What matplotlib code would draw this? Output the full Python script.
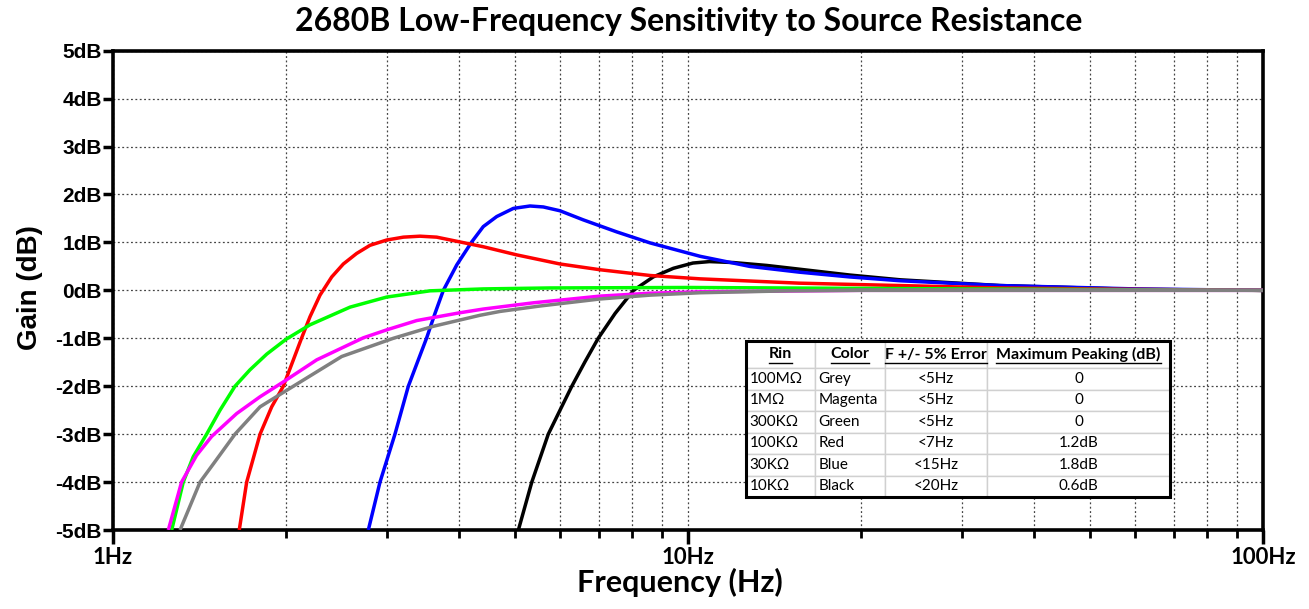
import matplotlib
matplotlib.use('Agg')
from matplotlib import pyplot as plt
from matplotlib.ticker import FixedLocator, NullFormatter
from matplotlib.lines import Line2D
from matplotlib.patches import Rectangle

# Curves (frequency in Hz, gain in dB)
black_f = [5.07, 5.35, 5.715, 5.99, 6.28, 6.62, 6.98, 7.47, 8.04, 8.70, 9.43, 10.2, 10.9, 12.0, 13.7,
           15.66, 19.1, 23.4, 34.9, 60, 100]
black_db = [-5, -4, -3, -2.5, -2, -1.49, -1, -0.48, 0, 0.28, 0.46, 0.57, 0.6, 0.58, 0.52,
            0.44, 0.32, 0.22, 0.1, 0.02, 0.0]

blue_f = [2.78, 2.913, 3.093, 3.263, 3.396, 3.512, 3.631, 3.754, 3.961, 4.206, 4.405, 4.649, 4.969,
          5.312, 5.603, 5.99, 6.576, 7.516, 8.59, 10.5, 12.8, 15.6, 19.1, 23.4, 34.9, 60, 100]
blue_db = [-5, -4, -3, -2, -1.45, -0.99, -0.48, 0, 0.53, 1.01, 1.33, 1.54, 1.71,
           1.76, 1.74, 1.66, 1.47, 1.22, 0.99, 0.71, 0.5, 0.38, 0.28, 0.2, 0.1, 0.03, 0.0]

red_f = [1.658, 1.708, 1.802, 1.888, 1.978, 2.059, 2.129, 2.201, 2.291, 2.401, 2.515, 2.653, 2.799,
         2.992, 3.199, 3.419, 3.655, 4.013, 4.405, 5.036, 5.99, 7.03, 8.59, 10.5, 15.6, 23.4, 35, 60, 100]
red_db = [-5, -4, -3, -2.43, -2, -1.45, -0.99, -0.55, -0.1, 0.28, 0.55, 0.77, 0.94,
          1.05, 1.11, 1.13, 1.11, 1.01, 0.91, 0.74, 0.55, 0.43, 0.31, 0.24, 0.15, 0.1, 0.05, 0.02, 0.0]

green_f = [1.265, 1.325, 1.379, 1.455, 1.535, 1.63, 1.73, 1.851, 2.0, 2.2, 2.584, 2.992, 3.558,
           4.405, 5.75, 10, 30, 100]
green_db = [-5, -4, -3.47, -3, -2.5, -2, -1.66, -1.33, -1.02, -0.72, -0.35, -0.14, -0.01,
            0.03, 0.05, 0.06, 0.03, 0.0]

magenta_f = [1.248, 1.316, 1.398, 1.484, 1.641, 1.802, 1.978, 2.261, 2.725, 3.0, 3.375, 4.0, 4.405,
             5.383, 7.03, 8.59, 10.5, 20, 100]
magenta_db = [-5, -4, -3.44, -3.05, -2.57, -2.22, -1.91, -1.45, -0.99, -0.82, -0.63, -0.47, -0.39,
              -0.26, -0.12, -0.06, -0.03, 0.0, 0.0]

grey_f = [1.308, 1.417, 1.499, 1.63, 1.802, 2.059, 2.499, 3.073, 3.606, 4.348, 4.71, 5.5, 7.03, 8.59,
          10.5, 15, 20, 100]
grey_db = [-5, -4, -3.6, -3, -2.43, -2, -1.38, -1, -0.75, -0.52, -0.44, -0.33, -0.18, -0.1,
           -0.05, -0.01, 0.0, 0.0]

curves = [
    (black_f, black_db, 'black'),
    (blue_f, blue_db, '#0000ff'),
    (red_f, red_db, '#ff0000'),
    (green_f, green_db, '#00ff00'),
    (magenta_f, magenta_db, '#ff00ff'),
    (grey_f, grey_db, '#808080'),
]

y_ticks = [5, 4, 3, 2, 1, 0, -1, -2, -3, -4, -5]
x_ticks = [1, 10, 100]
x_labels = ['1Hz', '10Hz', '100Hz']

col_labels = ['Rin', 'Color', 'F +/- 5% Error', 'Maximum Peaking (dB)']
rin = ['100MΩ', '1MΩ', '300KΩ', '100KΩ', '30KΩ', '10KΩ']
color_names = ['Grey', 'Magenta', 'Green', 'Red', 'Blue', 'Black']
f_error = ['<5Hz', '<5Hz', '<5Hz', '<7Hz', '<15Hz', '<20Hz']
peaking = ['0', '0', '0', '1.2dB', '1.8dB', '0.6dB']

fig = plt.figure(figsize=(13.09, 6.09), dpi=100)
ax = fig.add_axes([113 / 1309, 1 - 530 / 609, 1150 / 1309, 479.3 / 609])

for f, db, c in curves:
    ax.plot(f, db, color=c, linewidth=2.5, solid_joinstyle='round', solid_capstyle='butt', zorder=3)

ax.set_xscale('log')
ax.set_xlim(1, 100)
ax.set_ylim(-5, 5)

minor = [m * d for d in (1, 10) for m in range(2, 10)]
ax.xaxis.set_major_locator(FixedLocator(x_ticks))
ax.xaxis.set_minor_locator(FixedLocator(minor))
ax.xaxis.set_minor_formatter(NullFormatter())
ax.set_xticklabels(x_labels)
ax.set_yticks(y_ticks)
ax.set_yticklabels([f'{v}dB' for v in y_ticks])

for lab in ax.get_xticklabels():
    lab.set_fontfamily('Lato')
    lab.set_fontweight('bold')
    lab.set_fontsize(16)
for lab in ax.get_yticklabels():
    lab.set_fontfamily('Liberation Sans')
    lab.set_fontweight('bold')
    lab.set_fontsize(15)

ax.tick_params(axis='both', which='major', direction='out', width=2.5, length=7, pad=1)
ax.tick_params(axis='x', which='major', length=10, pad=2)
ax.tick_params(axis='x', which='minor', direction='out', width=2, length=6)
ax.tick_params(axis='y', which='minor', left=False)

ax.grid(True, which='both', axis='x', color='#444444', linestyle=(0, (1.5, 2)), linewidth=0.9)
ax.grid(True, which='major', axis='y', color='#444444', linestyle=(0, (1.5, 2)), linewidth=0.9)

for s in ax.spines.values():
    s.set_linewidth(2.6)
    s.set_color('black')

# title and axis labels
fig.text(689 / 1309, 1 - 21 / 609, '2680B Low-Frequency Sensitivity to Source Resistance',
         ha='center', va='center', fontsize=23, fontweight='bold', family='Lato')
fig.text(30 / 1309, 1 - 288 / 609, 'Gain (dB)', rotation=90, ha='center', va='center',
         fontsize=20, fontweight='bold', family='Liberation Sans')
fig.text(680 / 1309, 1 - 582 / 609, 'Frequency (Hz)', ha='center', va='center',
         fontsize=22, fontweight='bold', family='Lato')

# table of resistances
rows = [list(r) for r in zip(rin, color_names, f_error, peaking)]
x0 = (746 - 113) / 1150
x1 = (1170 - 113) / 1150
y1 = (530 - 341) / 479.3
y0 = (530 - 497) / 479.3
widths = [69, 70, 102, 183]
tot = sum(widths)
tbl = ax.table(cellText=rows, colLabels=col_labels, cellLoc='center',
               colWidths=[w / tot for w in widths], bbox=[x0, y0, x1 - x0, y1 - y0], zorder=5)
tbl.auto_set_font_size(False)
for (r, c), cell in tbl.get_celld().items():
    cell.set_edgecolor('#d0d0d0')
    cell.set_linewidth(1.0)
    cell.set_facecolor('white')
    txt = cell.get_text()
    txt.set_fontfamily(['Lato', 'DejaVu Sans'])
    cell.set_zorder(5)
    if r == 0:
        txt.set_fontweight('bold')
        txt.set_fontsize(11.5)
        cell.set_height(cell.get_height() * 27 / 21.5)
    else:
        txt.set_fontsize(11)
        if c in (0, 1):
            cell._loc = 'left'
            txt.set_horizontalalignment('left')
            cell.PAD = 0.05

ax.add_patch(Rectangle((x0, y0), x1 - x0, y1 - y0, transform=ax.transAxes, fill=False,
                       edgecolor='black', linewidth=2.2, zorder=6))

# underline header labels
fig.canvas.draw()
inv = fig.transFigure.inverted()
for c in range(len(col_labels)):
    bb = tbl[0, c].get_text().get_window_extent()
    (a, b), (cx, _) = inv.transform([[bb.x0, bb.y0], [bb.x1, bb.y1]])
    fig.add_artist(Line2D([a, cx], [b - 0.002, b - 0.002], color='black', linewidth=1.0, zorder=7))

fig.savefig('out.png', dpi=100)
